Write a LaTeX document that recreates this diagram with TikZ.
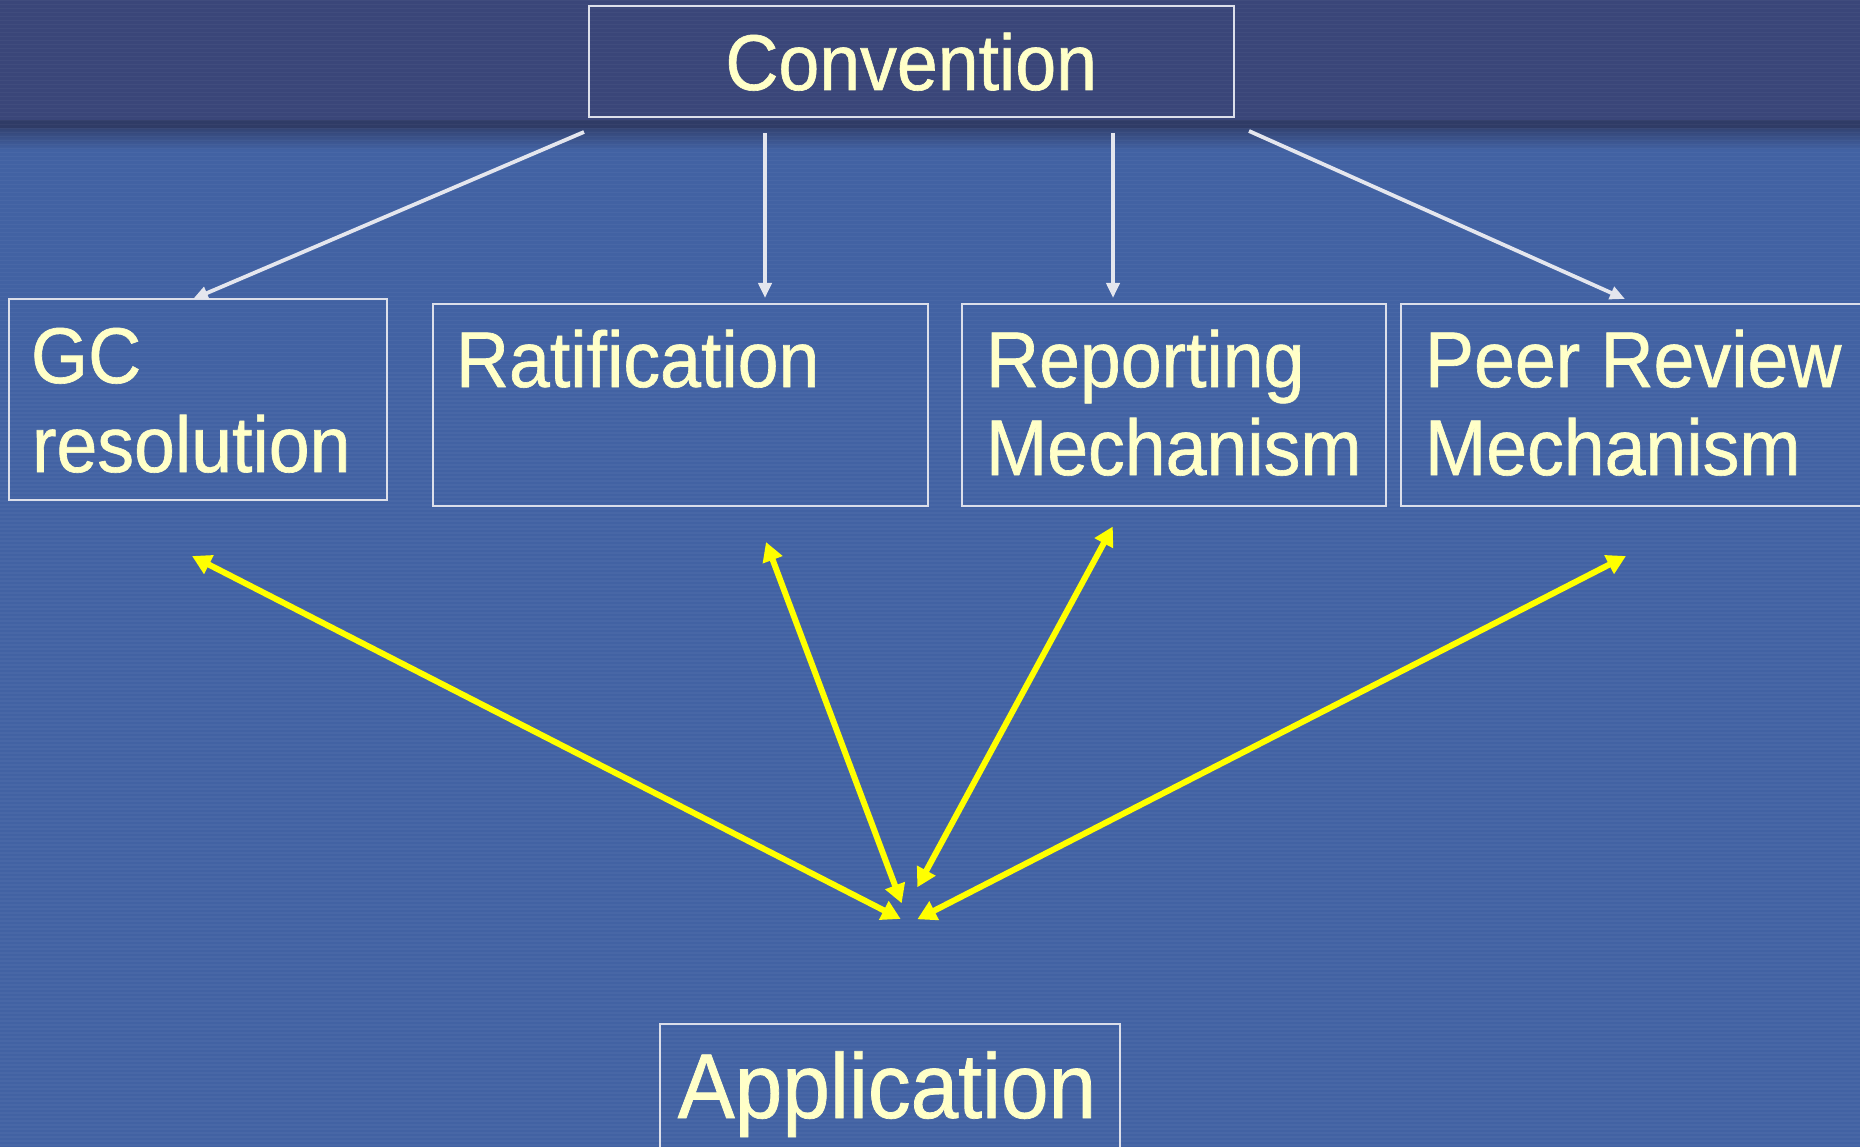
\documentclass[tikz,border=0pt]{standalone}
\usepackage{fontspec}
\setmainfont{Liberation Sans}
\newfontfamily\boxfont[FakeStretch=0.93,FakeBold=0.8]{Liberation Sans}
\usetikzlibrary{arrows.meta}
\definecolor{bandcol}{HTML}{3A4679}
\definecolor{bandline}{HTML}{2F3B66}
\definecolor{bodycol}{HTML}{4262A3}
\definecolor{txtcol}{HTML}{FFFFC8}
\definecolor{edgecol}{HTML}{DCDFEA}
\definecolor{warrowcol}{HTML}{E4E6EE}
\definecolor{yarrowcol}{HTML}{FFFF00}
\tikzset{
 box/.style={draw=edgecol, line width=2pt, rectangle, inner sep=0pt, outer sep=0pt},
 lbl/.style={text=txtcol, inner sep=0pt, outer sep=0pt, font=\boxfont\fontsize{79}{89}\selectfont, anchor=base west},
 biglbl/.style={text=txtcol, inner sep=0pt, outer sep=0pt, font=\boxfont\fontsize{92}{100}\selectfont, anchor=base},
 warrow/.style={draw=warrowcol, line width=3.8pt, -{Triangle[length=15pt,width=13pt]}},
 yarrow/.style={draw=yarrowcol, line width=6pt, {Triangle[length=19pt,width=20pt]}-{Triangle[length=19pt,width=20pt]}},
}
\begin{document}
\begin{tikzpicture}[x=1pt,y=-1pt]
\useasboundingbox (0,0) rectangle (1860,1147);
% background
\fill[bodycol] (0,0) rectangle (1860,1147);
\fill[bandcol] (0,0) rectangle (1860,122);
\shade[top color=bandline, bottom color=bodycol] (0,122) rectangle (1860,150);
\fill[bandline] (0,120) rectangle (1860,128);
\foreach \yy in {0,4,...,1144} \fill[white,opacity=0.035] (0,\yy) rectangle (1860,\yy+1.5);

% boxes
\node[box, minimum width=645.5pt, minimum height=111pt] (conv) at (911.25,62) {};
\node[box, minimum width=378.5pt, minimum height=201pt] (gc) at (197.75,399.5) {};
\node[box, minimum width=495.5pt, minimum height=201pt] (rat) at (680.25,405) {};
\node[box, minimum width=424pt, minimum height=201pt] (rep) at (1173.5,405) {};
\node[box, minimum width=479.5pt, minimum height=201pt] (peer) at (1640.25,405) {};
\node[box, minimum width=460.5pt, minimum height=140pt] (app) at (889.75,1094) {};

% labels
\node[text=txtcol, inner sep=0pt, font=\boxfont\fontsize{79}{89}\selectfont, anchor=base] (convt) at (911.25,90) {Convention};
\node[lbl] (gct1) at (31,383) {GC};
\node[lbl] (gct2) at (32,472) {resolution};
\node[lbl] (ratt) at (456,387) {Ratification};
\node[lbl] (rept1) at (986,387) {Reporting};
\node[lbl] (rept2) at (986,475) {Mechanism};
\node[lbl] (peert1) at (1425,387) {Peer Review};
\node[lbl] (peert2) at (1425,475) {Mechanism};
\node[biglbl] (appt) at (887,1118) {Application};

% white arrows from Convention
\coordinate (w1s) at (584,132);
\coordinate (w1e) at (193,299);
\coordinate (w2s) at (765,133);
\coordinate (w2e) at (765,298);
\coordinate (w3s) at (1113,133);
\coordinate (w3e) at (1113,298);
\coordinate (w4s) at (1249,131);
\coordinate (w4e) at (1625,299);
\draw[warrow] (w1s) -- (w1e);
\draw[warrow] (w2s) -- (w2e);
\draw[warrow] (w3s) -- (w3e);
\draw[warrow] (w4s) -- (w4e);

% yellow double arrows
\coordinate (y1a) at (192,556);
\coordinate (y1b) at (900.7,919);
\coordinate (y2a) at (766,542);
\coordinate (y2b) at (901.7,903.3);
\coordinate (y3a) at (1112.8,526.5);
\coordinate (y3b) at (917.3,887.3);
\coordinate (y4a) at (1626,556);
\coordinate (y4b) at (917.3,919.3);
\draw[yarrow] (y1a) -- (y1b);
\draw[yarrow] (y2a) -- (y2b);
\draw[yarrow] (y3a) -- (y3b);
\draw[yarrow] (y4a) -- (y4b);
\end{tikzpicture}
\end{document}
